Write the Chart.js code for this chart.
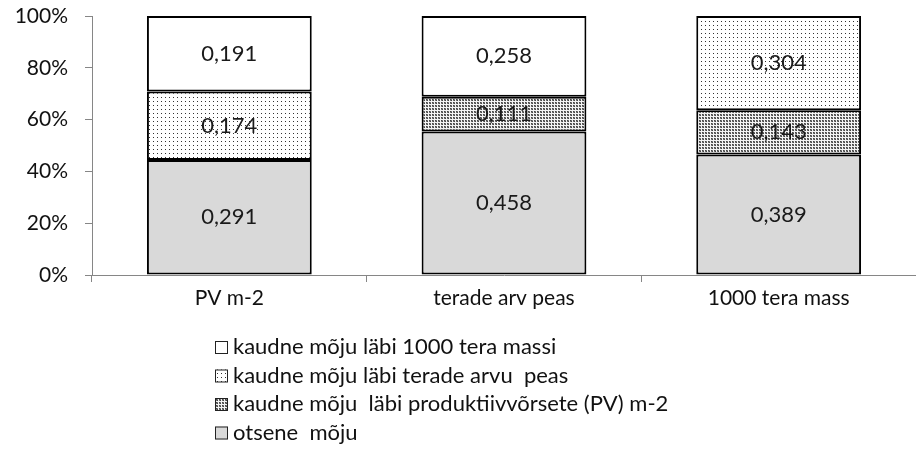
<!DOCTYPE html>
<html>
<head>
<meta charset="utf-8">
<script src="https://cdn.jsdelivr.net/npm/chart.js@4/dist/chart.umd.min.js"></script>
<style>
  html, body { margin: 0; padding: 0; background: #fff; }
  #wrap { width: 916px; height: 451px; }
</style>
</head>
<body>
<div id="wrap"><canvas id="myChart" width="916" height="451"></canvas></div>
<script>
const categories = ["PV m-2", "terade arv peas", "1000 tera mass"];
const otsene = [0.291, 0.458, 0.389];
const laebiPV = [null, 0.111, 0.143];
const laebiTerad = [0.174, null, 0.304];
const laebiMass = [0.191, 0.258, null];
const yTicks = [0, 20, 40, 60, 80, 100];

const FONT = "Lato";

// patterns
function makePattern(size, draw) {
	const c = document.createElement("canvas");
	c.width = size;
	c.height = size;
	const ctx = c.getContext("2d");
	draw(ctx);
	return ctx.createPattern(c, "repeat");
}
const sparseDots = makePattern(4, function (g) {
	g.fillStyle = "#fff";
	g.fillRect(0, 0, 4, 4);
	g.fillStyle = "#333";
	g.fillRect(1, 1, 1, 1);
});
const denseDots = makePattern(3, function (g) {
	g.fillStyle = "#f4f4f4";
	g.fillRect(0, 0, 3, 3);
	g.fillStyle = "#777";
	g.fillRect(0, 0, 2, 2);
	g.fillStyle = "#444";
	g.fillRect(0, 0, 1, 1);
	g.fillRect(1, 1, 1, 1);
});

// totals per bar -> percent for 100% stacked bars
const series = [otsene, laebiPV, laebiTerad, laebiMass];
const totals = categories.map((_, i) => series.reduce((s, arr) => s + (arr[i] || 0), 0));
function toPct(arr) {
	return arr.map((v, i) => v == null ? null : v / totals[i] * 100);
}

const datasets = [
	{ label: "otsene  mõju", raw: otsene, data: toPct(otsene), backgroundColor: "#d9d9d9" },
	{ label: "kaudne mõju  läbi produktiivvõrsete (PV) m-2", raw: laebiPV, data: toPct(laebiPV), backgroundColor: denseDots },
	{ label: "kaudne mõju läbi terade arvu  peas", raw: laebiTerad, data: toPct(laebiTerad), backgroundColor: sparseDots },
	{ label: "kaudne mõju läbi 1000 tera massi", raw: laebiMass, data: toPct(laebiMass), backgroundColor: "#fff" }
];
datasets.forEach(d => {
	d.borderColor = "#000";
	d.borderWidth = 2;
	d.borderSkipped = false;
	d.barPercentage = 0.6;
	d.categoryPercentage = 1;
});

const valueLabels = {
	id: "valueLabels",
	afterDatasetsDraw(chart) {
		const ctx = chart.ctx;
		ctx.save();
		ctx.font = "22px " + FONT;
		ctx.fillStyle = "#1a1a1a";
		ctx.textAlign = "center";
		ctx.textBaseline = "middle";
		chart.data.datasets.forEach((ds, di) => {
			const meta = chart.getDatasetMeta(di);
			meta.data.forEach((bar, i) => {
				const v = ds.raw[i];
				if (v == null) return;
				const y = (bar.y + bar.base) / 2;
				ctx.fillText(v.toFixed(3).replace(".", ","), bar.x, y);
			});
		});
		ctx.restore();
	}
};

const listLegend = {
	id: "listLegend",
	afterDraw(chart) {
		const ctx = chart.ctx;
		ctx.save();
		ctx.font = "22px " + FONT;
		ctx.textBaseline = "middle";
		const items = chart.data.datasets.slice().reverse();
		items.forEach((ds, k) => {
			const y = 347 + k * 28.5;
			ctx.fillStyle = ds.backgroundColor;
			ctx.fillRect(215, y - 6, 13, 13);
			ctx.strokeStyle = "#222";
			ctx.lineWidth = 1;
			ctx.strokeRect(215.5, y - 5.5, 12, 12);
			ctx.fillStyle = "#111";
			ctx.fillText(ds.label, 233, y);
		});
		ctx.restore();
	}
};

new Chart("myChart", {
	type: "bar",
	data: { labels: categories, datasets: datasets },
	plugins: [valueLabels, listLegend],
	options: {
		responsive: false,
		animation: false,
		layout: { padding: { top: 16, right: 0, left: 0, bottom: 0 } },
		plugins: { legend: { display: false }, tooltip: { enabled: false } },
		scales: {
			x: {
				stacked: true,
				afterFit: s => { s.height = 176; s.paddingLeft = 0; s.paddingRight = 0; },
				border: { color: "#868686", width: 1 },
				grid: { drawOnChartArea: false, color: "#868686", tickLength: 7, offset: true },
				ticks: { color: "#111", font: { family: FONT, size: 21 }, padding: 4 }
			},
			y: {
				stacked: true,
				min: 0,
				max: 100,
				afterFit: s => { s.width = 92; s.paddingTop = 0; s.paddingBottom = 0; },
				afterBuildTicks: s => { s.ticks = yTicks.map(v => ({ value: v })); },
				border: { color: "#868686", width: 1 },
				grid: { drawOnChartArea: false, color: "#868686", tickLength: 7 },
				ticks: { color: "#111", font: { family: FONT, size: 21 }, padding: 17, callback: v => v + "%" }
			}
		}
	}
});
</script>
</body>
</html>
